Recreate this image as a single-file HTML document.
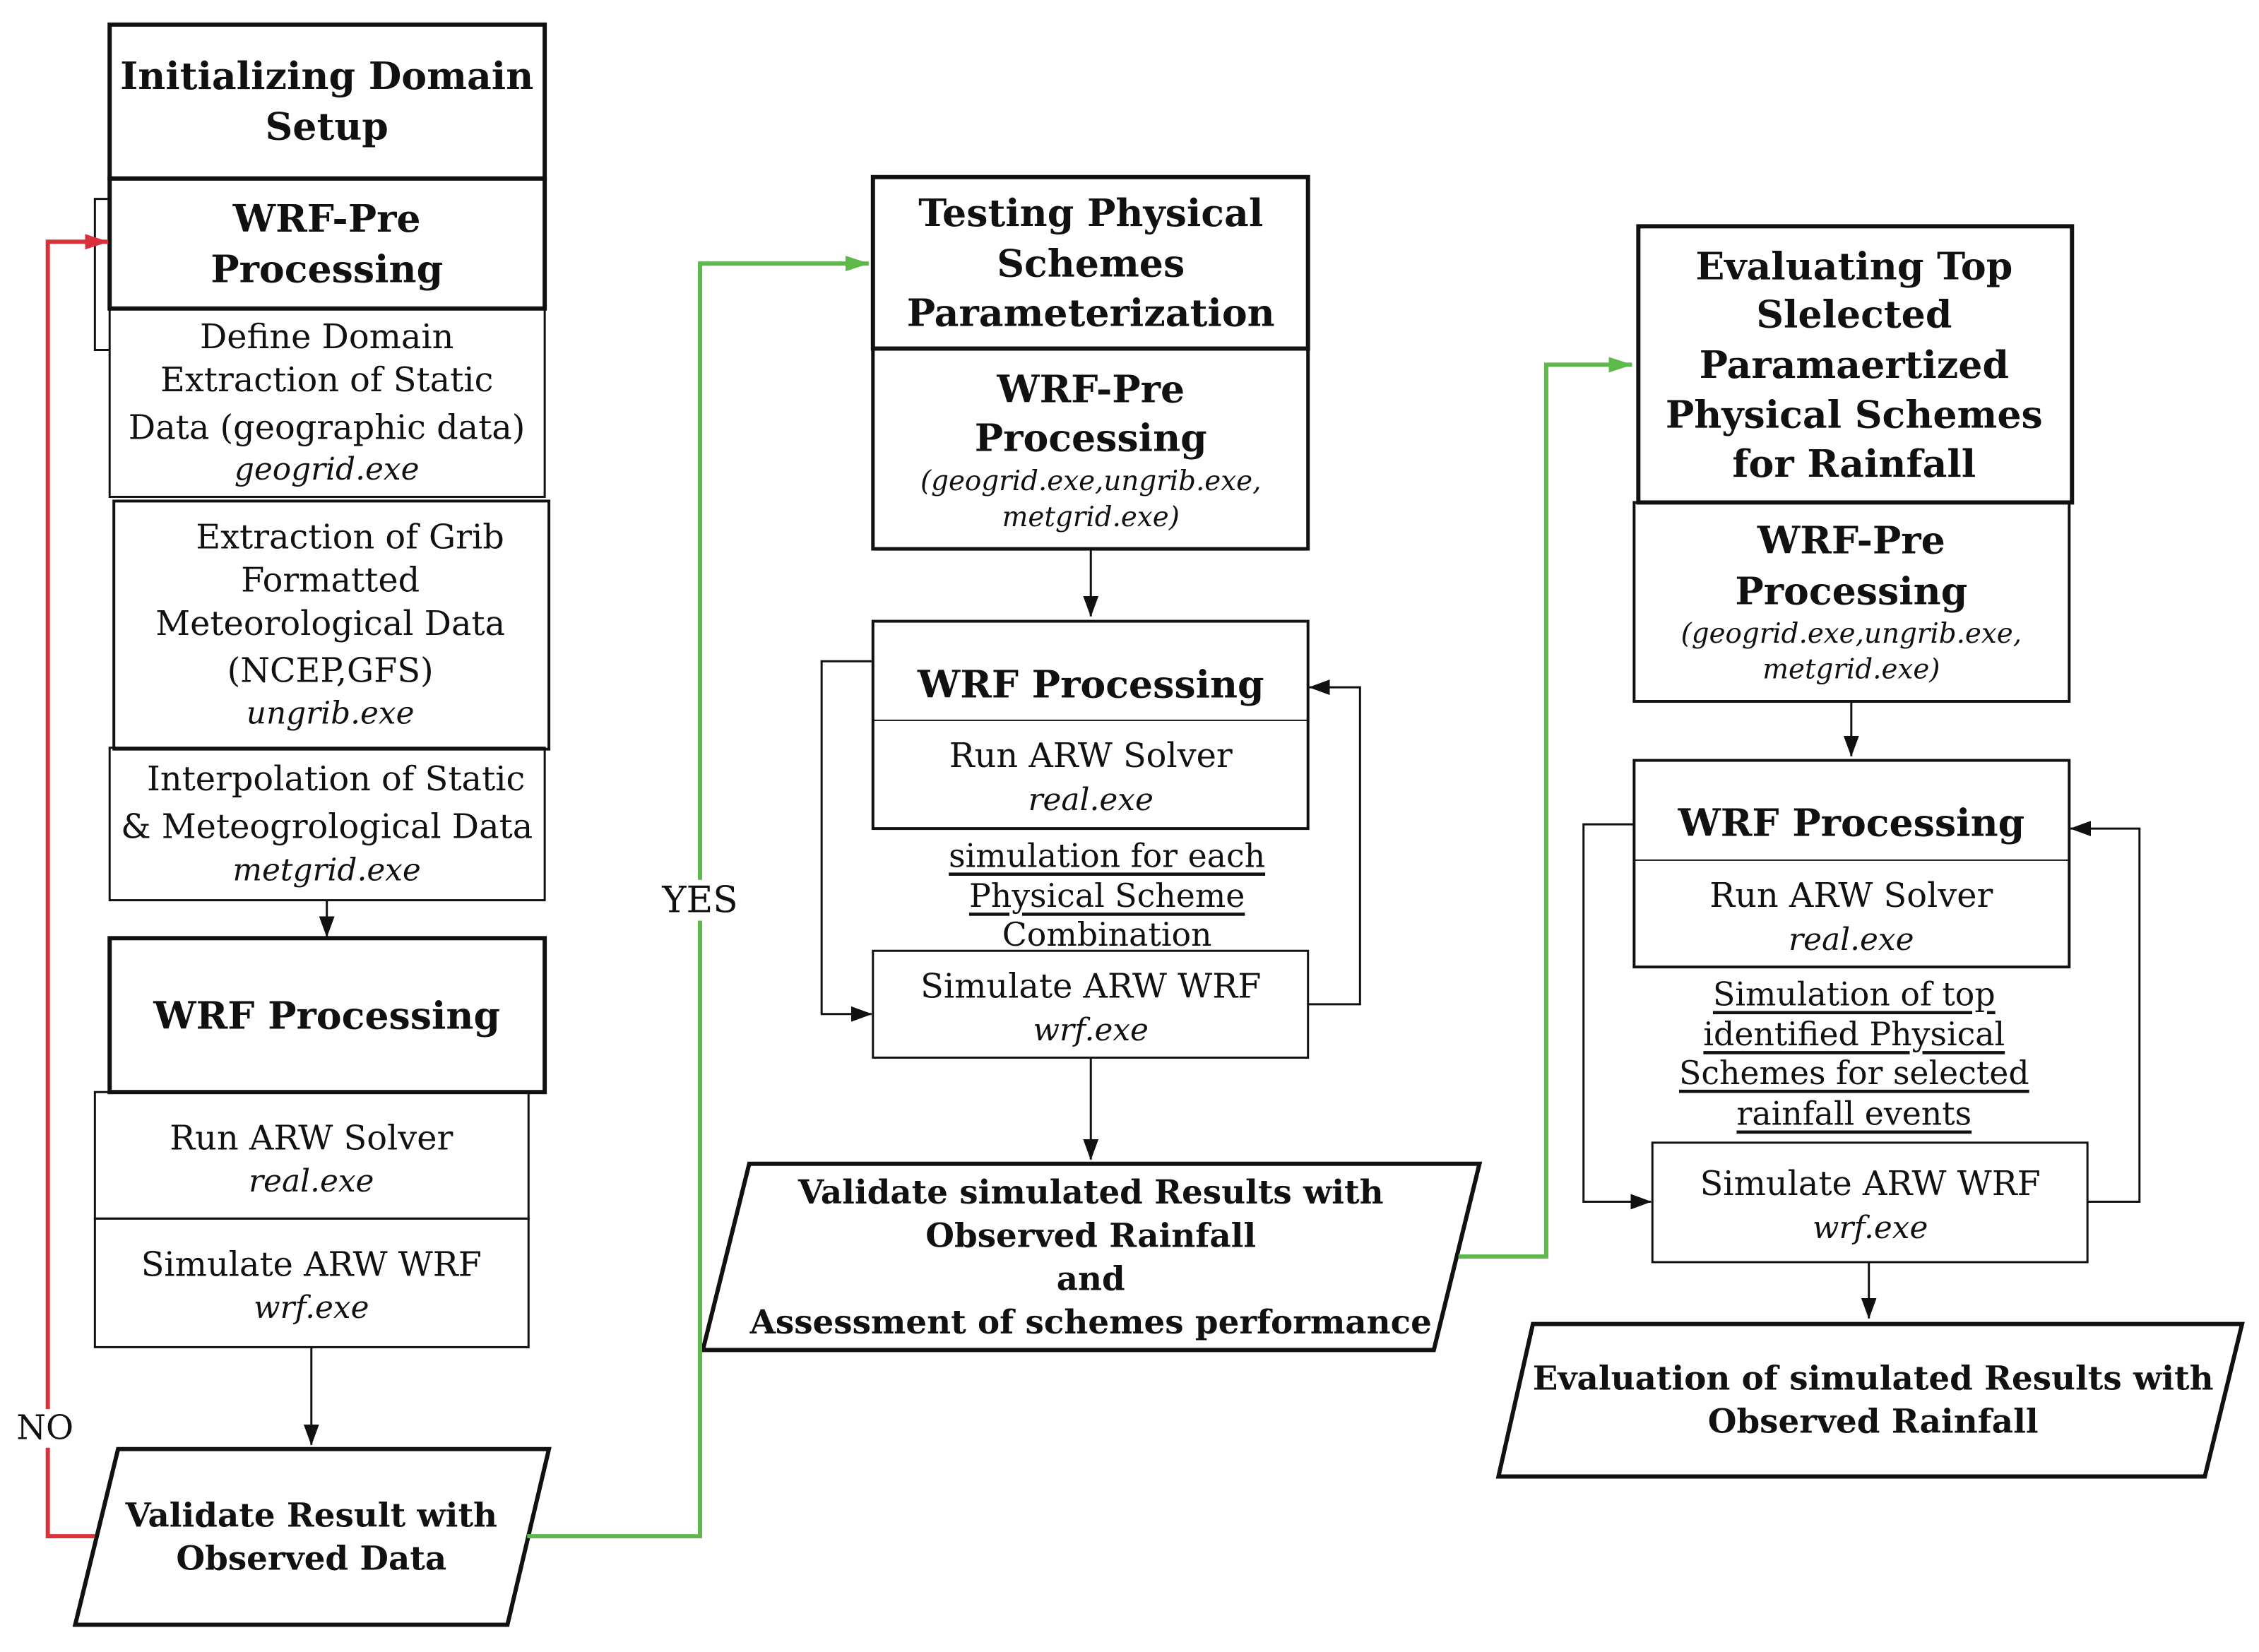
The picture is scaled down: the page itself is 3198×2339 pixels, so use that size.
<!DOCTYPE html>
<html><head><meta charset="utf-8"><style>
html,body{margin:0;padding:0;background:#fff;}
svg{display:block;}
text{font-family:"DejaVu Serif","Liberation Serif",serif;fill:#111;text-anchor:middle;dominant-baseline:central;}
.b{font-weight:bold;font-size:54px;}
.p{font-weight:bold;font-size:47px;}
.r{font-size:48px;}
.i{font-size:44px;font-style:italic;}
.ip{font-size:39px;font-style:italic;}
.u{font-size:46px;text-decoration:underline;}
</style></head><body>
<svg width="3198" height="2339" viewBox="0 0 3198 2339" xmlns="http://www.w3.org/2000/svg">
<defs>
<marker id="akb" markerWidth="30" markerHeight="22" refX="29" refY="11" orient="auto" markerUnits="userSpaceOnUse"><path d="M0,0 L30,11 L0,22 z" fill="#111"/></marker>
<marker id="ag" markerWidth="34" markerHeight="22" refX="33" refY="11" orient="auto" markerUnits="userSpaceOnUse"><path d="M0,0 L34,11 L0,22 z" fill="#5db94a"/></marker>
<marker id="ar" markerWidth="34" markerHeight="22" refX="33" refY="11" orient="auto" markerUnits="userSpaceOnUse"><path d="M0,0 L34,11 L0,22 z" fill="#d9323a"/></marker>
</defs>
<g transform="scale(0.995)">
<g fill="none" stroke="#111">
<rect x="156" y="35" width="619" height="219" stroke-width="6"/>
<rect x="156" y="254" width="619" height="185" stroke-width="6"/>
<polyline points="156,283 135,283 135,498 156,498" stroke-width="3"/>
<rect x="156" y="439" width="619" height="268" stroke-width="3"/>
<rect x="162" y="713" width="619" height="353" stroke-width="4"/>
<rect x="156" y="1064" width="619" height="217" stroke-width="3"/>
<line x1="465" y1="1281" x2="465" y2="1333" stroke-width="3" marker-end="url(#akb)"/>
<rect x="156" y="1335" width="619" height="219" stroke-width="6"/>
<rect x="135" y="1554" width="617" height="180" stroke-width="3"/>
<rect x="135" y="1734" width="617" height="183" stroke-width="3"/>
<line x1="443" y1="1917" x2="443" y2="2056" stroke-width="3" marker-end="url(#akb)"/>
<polygon points="168,2062 781,2062 722,2312 107,2312" stroke-width="6"/>
<rect x="1242" y="252" width="619" height="244" stroke-width="6"/>
<rect x="1242" y="496" width="619" height="285" stroke-width="5"/>
<line x1="1552" y1="781" x2="1552" y2="877" stroke-width="3" marker-end="url(#akb)"/>
<rect x="1242" y="884" width="619" height="295" stroke-width="4"/>
<line x1="1242" y1="1025" x2="1861" y2="1025" stroke-width="2"/>
<rect x="1242" y="1353" width="619" height="152" stroke-width="3"/>
<polyline points="1242,941 1169,941 1169,1443 1240,1443" stroke-width="3" marker-end="url(#akb)"/>
<polyline points="1861,1429 1935,1429 1935,978 1863,978" stroke-width="3" marker-end="url(#akb)"/>
<line x1="1552" y1="1505" x2="1552" y2="1650" stroke-width="3" marker-end="url(#akb)"/>
<polygon points="1066,1656 2105,1656 2040,1921 1000,1921" stroke-width="6"/>
<rect x="2331" y="322" width="617" height="393" stroke-width="6"/>
<rect x="2325" y="715" width="619" height="283" stroke-width="4"/>
<line x1="2634" y1="998" x2="2634" y2="1076" stroke-width="3" marker-end="url(#akb)"/>
<rect x="2325" y="1082" width="619" height="294" stroke-width="4"/>
<line x1="2325" y1="1224" x2="2944" y2="1224" stroke-width="2"/>
<rect x="2351" y="1626" width="619" height="170" stroke-width="3"/>
<polyline points="2325,1173 2253,1173 2253,1710 2349,1710" stroke-width="3" marker-end="url(#akb)"/>
<polyline points="2970,1710 3044,1710 3044,1179 2946,1179" stroke-width="3" marker-end="url(#akb)"/>
<line x1="2659" y1="1796" x2="2659" y2="1876" stroke-width="3" marker-end="url(#akb)"/>
<polygon points="2181,1884 3190,1884 3137,2101 2132,2101" stroke-width="6"/>
</g>
<g fill="none" stroke-width="6">
<polyline points="135,2186 68,2186 68,2060" stroke="#d9323a"/>
<polyline points="68,2005 68,344 154,344" stroke="#d9323a" marker-end="url(#ar)"/>
<polyline points="750,2186 996,2186 996,1310" stroke="#5db94a"/>
<polyline points="996,1252 996,375 1236,375" stroke="#5db94a" marker-end="url(#ag)"/>
<polyline points="2075,1788 2200,1788 2200,519 2322,519" stroke="#5db94a" marker-end="url(#ag)"/>
</g>
<text x="64" y="2032" class="r" style="font-size:48px">NO</text>
<text x="996" y="1281" class="r" style="font-size:52px">YES</text>

<text x="465" y="108" class="b">Initializing Domain</text>
<text x="465" y="180" class="b">Setup</text>
<text x="465" y="311" class="b">WRF-Pre</text>
<text x="465" y="383" class="b">Processing</text>
<text x="465" y="480" class="r">Define Domain</text>
<text x="465" y="541" class="r">Extraction of Static</text>
<text x="465" y="609" class="r">Data (geographic data)</text>
<text x="465" y="668" class="i">geogrid.exe</text>
<text x="498" y="765" class="r">Extraction of Grib</text>
<text x="470" y="826" class="r">Formatted</text>
<text x="470" y="888" class="r">Meteorological Data</text>
<text x="470" y="955" class="r">(NCEP,GFS)</text>
<text x="470" y="1015" class="i">ungrib.exe</text>
<text x="478" y="1109" class="r">Interpolation of Static</text>
<text x="465" y="1177" class="r">&amp; Meteogrological Data</text>
<text x="465" y="1238" class="i">metgrid.exe</text>
<text x="465" y="1445" class="b">WRF Processing</text>
<text x="443" y="1620" class="r">Run ARW Solver</text>
<text x="443" y="1681" class="i">real.exe</text>
<text x="443" y="1800" class="r">Simulate ARW WRF</text>
<text x="443" y="1861" class="i">wrf.exe</text>
<text x="443" y="2157" class="p">Validate Result with</text>
<text x="443" y="2218" class="p">Observed  Data</text>

<text x="1552" y="303" class="b">Testing Physical</text>
<text x="1552" y="375" class="b">Schemes</text>
<text x="1552" y="445" class="b">Parameterization</text>
<text x="1552" y="554" class="b">WRF-Pre</text>
<text x="1552" y="623" class="b">Processing</text>
<text x="1552" y="685" class="ip">(geogrid.exe,ungrib.exe,</text>
<text x="1552" y="736" class="ip">metgrid.exe)</text>
<text x="1552" y="974" class="b">WRF Processing</text>
<text x="1552" y="1076" class="r">Run ARW Solver</text>
<text x="1552" y="1138" class="i">real.exe</text>
<text x="1575" y="1218" class="u"> simulation for each</text>
<text x="1575" y="1275" class="u">Physical Scheme</text>
<text x="1575" y="1330" class="r" style="font-size:46px">Combination</text>
<text x="1552" y="1404" class="r">Simulate ARW WRF</text>
<text x="1552" y="1466" class="i">wrf.exe</text>
<text x="1552" y="1697" class="p">Validate simulated Results with</text>
<text x="1552" y="1759" class="p">Observed Rainfall</text>
<text x="1552" y="1820" class="p">and</text>
<text x="1552" y="1882" class="p">Assessment of schemes performance</text>

<text x="2638" y="379" class="b">Evaluating Top</text>
<text x="2638" y="447" class="b">Slelected</text>
<text x="2638" y="519" class="b">Paramaertized</text>
<text x="2638" y="590" class="b">Physical Schemes</text>
<text x="2638" y="660" class="b">for Rainfall</text>
<text x="2634" y="769" class="b">WRF-Pre</text>
<text x="2634" y="841" class="b">Processing</text>
<text x="2634" y="902" class="ip">(geogrid.exe,ungrib.exe,</text>
<text x="2634" y="953" class="ip">metgrid.exe)</text>
<text x="2634" y="1171" class="b">WRF Processing</text>
<text x="2634" y="1275" class="r">Run ARW Solver</text>
<text x="2634" y="1337" class="i">real.exe</text>
<text x="2638" y="1415" class="u"> Simulation of  top</text>
<text x="2638" y="1472" class="u">identified Physical</text>
<text x="2638" y="1527" class="u">Schemes for selected</text>
<text x="2638" y="1585" class="u">rainfall events</text>
<text x="2661" y="1685" class="r">Simulate ARW WRF</text>
<text x="2661" y="1747" class="i">wrf.exe</text>
<text x="2665" y="1962" class="p">Evaluation of  simulated Results with</text>
<text x="2665" y="2023" class="p">Observed Rainfall</text>
</g>
</svg>
</body></html>
